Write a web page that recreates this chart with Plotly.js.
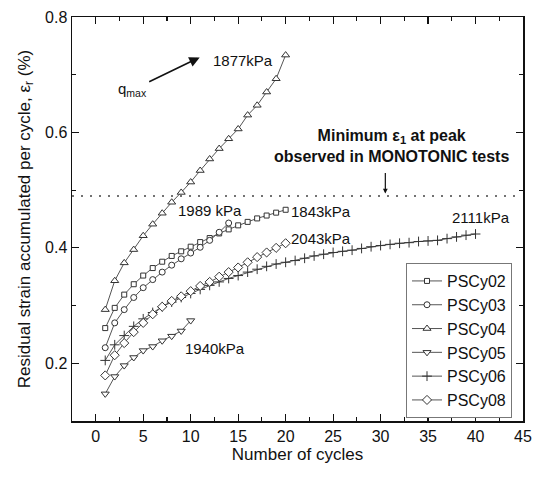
<!DOCTYPE html>
<html>
<head>
<meta charset="utf-8">
<script src="https://cdn.plot.ly/plotly-3.0.1.min.js"></script>
<style>html,body{margin:0;padding:0;background:#fff;}#chart{width:535px;height:479px;}</style>
</head>
<body>
<div id="chart"></div>
<script>
const cycles = [1,2,3,4,5,6,7,8,9,10,11,12,13,14,15,16,17,18,19,20,21,22,23,24,25,26,27,28,29,30,31,32,33,34,35,36,37,38,39,40];
const seriesNames = ["PSCy02","PSCy03","PSCy04","PSCy05","PSCy06","PSCy08"];
const PSCy02 = [0.261,0.296,0.319,0.337,0.352,0.365,0.376,0.386,0.394,0.402,0.410,0.417,0.425,0.432,0.439,0.445,0.451,0.456,0.461,0.466];
const PSCy03 = [0.227,0.270,0.293,0.314,0.331,0.345,0.358,0.370,0.381,0.391,0.401,0.413,0.427,0.443];
const PSCy04 = [0.293,0.343,0.374,0.397,0.421,0.441,0.460,0.479,0.496,0.514,0.534,0.554,0.572,0.589,0.606,0.630,0.647,0.670,0.693,0.734];
const PSCy05 = [0.147,0.177,0.196,0.210,0.222,0.229,0.239,0.247,0.256,0.274];
const PSCy06 = [0.205,0.232,0.248,0.264,0.277,0.288,0.298,0.306,0.314,0.321,0.328,0.335,0.341,0.347,0.352,0.358,0.363,0.368,0.372,0.375,0.378,0.382,0.386,0.389,0.392,0.394,0.396,0.399,0.402,0.404,0.406,0.408,0.409,0.411,0.412,0.413,0.416,0.419,0.422,0.424];
const PSCy08 = [0.179,0.214,0.235,0.254,0.270,0.285,0.298,0.308,0.316,0.325,0.334,0.341,0.350,0.358,0.366,0.375,0.384,0.392,0.400,0.408];
const monotonicMin = 0.49;
const xTickVals = [0,5,10,15,20,25,30,35,40,45];
const yTickVals = [0.2,0.4,0.6,0.8];

const FONT = "Liberation Sans, Arial, sans-serif";
const values = [PSCy02, PSCy03, PSCy04, PSCy05, PSCy06, PSCy08];
const symbols = ["square","circle","triangle-up","triangle-down","cross-thin","diamond"];
const sizes = [5,6,7,7,7,7];

const traces = values.map((v, i) => ({
  x: cycles.slice(0, v.length),
  y: v,
  name: seriesNames[i],
  type: "scatter",
  mode: "lines+markers",
  line: {color: "#555", width: 1},
  marker: {symbol: symbols[i], size: sizes[i], color: "#fff",
           line: {color: "#333", width: 1}}
}));
traces.push({
  x: [-2.5, 44.6], y: [monotonicMin, monotonicMin],
  mode: "lines", showlegend: false, hoverinfo: "skip",
  line: {color: "#444", width: 1.5, dash: "2px,7px"}
});

const ann = (x, y, text, extra) => Object.assign({x, y, xref: "x", yref: "y", text, showarrow: false,
  font: {family: FONT, size: 15, color: "#111"}}, extra || {});

const layout = {
  width: 535, height: 479,
  margin: {l: 72, r: 12, t: 17, b: 58},
  paper_bgcolor: "#fff", plot_bgcolor: "#fff",
  font: {family: FONT, size: 16, color: "#111"},
  showlegend: true,
  legend: {x: 0.7406, y: 0.391, xanchor: "left", yanchor: "top",
           bgcolor: "#fff", bordercolor: "#777", borderwidth: 1,
           font: {family: FONT, size: 16, color: "#111"}},
  xaxis: {
    range: [-2.5, 45], tickvals: xTickVals, ticks: "inside", ticklen: 7, tickwidth: 1.2,
    tickcolor: "#111", showline: true, linecolor: "#111", linewidth: 1.5, mirror: "ticks",
    showgrid: false, zeroline: false,
    minor: {dtick: 2.5, ticks: "inside", ticklen: 4, tickcolor: "#111", showgrid: false},
    tickfont: {family: FONT, size: 16},
    title: {text: "Number of cycles", font: {family: FONT, size: 17}, standoff: 4}
  },
  yaxis: {
    range: [0.1, 0.8], tickvals: yTickVals, ticks: "inside", ticklen: 7, tickwidth: 1.2,
    tickcolor: "#111", showline: true, linecolor: "#111", linewidth: 1.5, mirror: "ticks",
    showgrid: false, zeroline: false,
    minor: {dtick: 0.1, ticks: "inside", ticklen: 4, tickcolor: "#111", showgrid: false},
    tickfont: {family: FONT, size: 16},
    title: {text: "Residual strain accumulated per cycle, ε<sub>r</sub> (%)", font: {family: FONT, size: 17}, standoff: 10}
  },
  annotations: [
    ann(15.47, 0.725, "1877kPa"),
    ann(3.9, 0.675, "q<sub>max</sub>"),
    {x: 10.95, y: 0.730, xref: "x", yref: "y", ax: -52, ay: 25, text: "", showarrow: true,
     arrowhead: 2, arrowsize: 1.3, arrowwidth: 1.6, arrowcolor: "#111"},
    ann(12.0, 0.464, "1989 kPa"),
    ann(23.7, 0.463, "1843kPa"),
    ann(23.7, 0.417, "2043kPa"),
    ann(40.6, 0.452, "2111kPa"),
    ann(12.6, 0.226, "1940kPa"),
    ann(31.2, 0.577, "<b>Minimum ε<sub>1</sub> at peak</b><br><b>observed in MONOTONIC tests</b>", {font: {family: FONT, size: 16, color: "#111"}}),
    {x: 30.5, y: 0.494, xref: "x", yref: "y", ax: 0, ay: -22, text: "", showarrow: true,
     arrowhead: 2, arrowsize: 0.8, arrowwidth: 1.2, arrowcolor: "#111"}
  ]
};

Plotly.newPlot("chart", traces, layout, {displayModeBar: false, staticPlot: true});
</script>
</body>
</html>
